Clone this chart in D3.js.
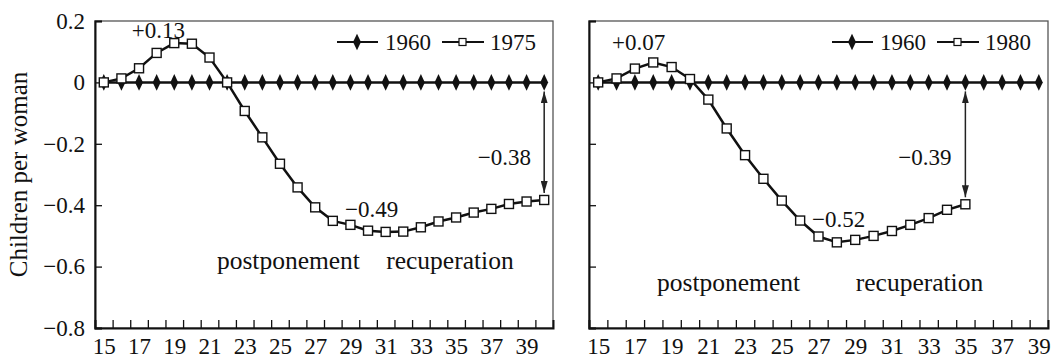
<!DOCTYPE html>
<html><head><meta charset="utf-8">
<script src="https://cdn.jsdelivr.net/npm/d3@7"></script>
<style>
svg text { font-family: "Liberation Serif" !important; }
</style>
</head>
<body style="margin:0;background:#fff">
<svg id="c" width="1059" height="359" font-family="Liberation Serif"></svg>
<script>
// ---- data ----
const agesLeft = d3.range(15, 41);   // 15..40
const agesRight = d3.range(15, 40);  // 15..39
const base1960Left = agesLeft.map(() => 0);
const base1960Right = agesRight.map(() => 0);
const ages1975 = d3.range(15, 41);
const vals1975 = [0, 0.013, 0.046, 0.096, 0.128, 0.126, 0.081, 0.0, -0.093, -0.179, -0.265, -0.342,
  -0.407, -0.451, -0.464, -0.483, -0.487, -0.486, -0.472, -0.453, -0.440, -0.424, -0.412, -0.396, -0.388, -0.383];
const ages1980 = d3.range(15, 36);
const vals1980 = [0, 0.013, 0.045, 0.065, 0.050, 0.011, -0.056, -0.150, -0.237, -0.314, -0.385, -0.450,
  -0.502, -0.521, -0.513, -0.500, -0.484, -0.464, -0.442, -0.415, -0.397];
const yTicks = [0.2, 0, -0.2, -0.4, -0.6, -0.8];
const yTitle = "Children per woman";

const panels = [
  {left:95, right:553, ages:agesLeft, base:base1960Left, sAges:ages1975, sVals:vals1975,
   legend:["1960","1975"], yLabels:true,
   peak:{t:"+0.13", a:18.1, v:0.146}, diff:{t:"\u22120.38", a:37.74, v:-0.268},
   min:{t:"\u22120.49", a:30.2, v:-0.437}, arrowAge:40, arrowVal:-0.383,
   post:{a:25.48, v:-0.608}, recup:{a:34.65, v:-0.608}},
  {left:589, right:1048, ages:agesRight, base:base1960Right, sAges:ages1980, sVals:vals1980,
   legend:["1960","1980"], yLabels:false,
   peak:{t:"+0.07", a:17.2, v:0.107}, diff:{t:"\u22120.39", a:32.8, v:-0.268},
   min:{t:"\u22120.52", a:28.1, v:-0.471}, arrowAge:35, arrowVal:-0.397,
   post:{a:22.1, v:-0.68}, recup:{a:32.5, v:-0.68}}
];

const svg = d3.select("#c");
const yTop = 21, yBottom = 328;
const y = d3.scaleLinear().domain([-0.8, 0.2]).range([yBottom, yTop]);
const fmt = v => v === 0 ? "0" : d3.format(".1f")(v);

const defs = svg.append("defs");
defs.append("marker").attr("id","ah").attr("viewBox","0 0 10 10").attr("refX",10).attr("refY",5)
  .attr("markerWidth",12).attr("markerHeight",7).attr("orient","auto-start-reverse")
  .attr("markerUnits","userSpaceOnUse").attr("preserveAspectRatio","none")
  .append("path").attr("d","M0,0 L10,5 L0,10 Z").attr("fill","#222");

const diamond = d3.symbol().type(d3.symbolDiamond).size(60);

panels.forEach(p => {
  const g = svg.append("g");
  const amin = d3.min(p.ages), amax = d3.max(p.ages);
  const x = d3.scaleLinear().domain([amin - 0.5, amax + 0.5]).range([p.left, p.right]);

  // frame
  g.append("rect").attr("x", p.left).attr("y", yTop).attr("width", p.right - p.left).attr("height", yBottom - yTop)
    .attr("fill","none").attr("stroke","#555").attr("stroke-width",1.3);

  // y axis
  const ya = g.append("g").attr("transform",`translate(${p.left},0)`)
    .call(d3.axisLeft(y).tickValues(yTicks).tickSize(-7).tickPadding(10)
      .tickFormat(p.yLabels ? fmt : ""));
  ya.attr("font-family","Liberation Serif").attr("font-size",23);
  ya.select(".domain").attr("stroke","#111").attr("stroke-width",2);
  ya.selectAll(".tick line").attr("stroke","#111").attr("stroke-width",1.3);
  ya.selectAll("text").attr("fill","#111");

  // x axis: ticks at category boundaries
  const bounds = d3.range(amin + 0.5, amax, 1);
  const xa = g.append("g").attr("transform",`translate(0,${yBottom})`)
    .call(d3.axisBottom(x).tickValues(bounds).tickSize(-8).tickFormat(""));
  xa.select(".domain").attr("stroke","#111").attr("stroke-width",2);
  xa.selectAll(".tick line").attr("stroke","#111").attr("stroke-width",1.3);
  const xl = g.append("g").attr("transform",`translate(0,${yBottom})`)
    .call(d3.axisBottom(x).tickValues(p.ages.filter(a => a % 2 === 1)).tickSize(0).tickPadding(10).tickFormat(d3.format("d")));
  xl.attr("font-family","Liberation Serif").attr("font-size",23);
  xl.select(".domain").remove();
  xl.selectAll("text").attr("fill","#111");

  // 1960 baseline
  const line = d3.line().x(d => x(d[0])).y(d => y(d[1]));
  const bData = p.ages.map((a,i) => [a, p.base[i]]);
  g.append("path").attr("d", line(bData)).attr("fill","none").attr("stroke","#111").attr("stroke-width",2.5);
  g.selectAll(".dm").data(bData).join("path").attr("class","dm")
    .attr("transform", d => `translate(${x(d[0])},${y(d[1])}) scale(0.95,1.15)`)
    .attr("d", diamond).attr("fill","#111");

  // arrow
  g.append("line").attr("x1", x(p.arrowAge)).attr("x2", x(p.arrowAge))
    .attr("y1", y(0) + 9).attr("y2", y(p.arrowVal) - 7)
    .attr("stroke","#222").attr("stroke-width",1.5)
    .attr("marker-start","url(#ah)").attr("marker-end","url(#ah)");

  // series
  const sData = p.sAges.map((a,i) => [a, p.sVals[i]]);
  g.append("path").attr("d", line(sData)).attr("fill","none").attr("stroke","#111").attr("stroke-width",2.5);
  g.selectAll(".sq").data(sData).join("rect").attr("class","sq")
    .attr("x", d => x(d[0]) - 4.5).attr("y", d => y(d[1]) - 4.5).attr("width",9).attr("height",9)
    .attr("fill","#fff").attr("stroke","#111").attr("stroke-width",1.4);

  // annotations
  const txt = (o, t, size) => g.append("text").attr("x", x(o.a)).attr("y", y(o.v))
    .attr("text-anchor","middle").attr("font-size", size).attr("fill","#111").text(t);
  txt(p.peak, p.peak.t, 23);
  txt(p.diff, p.diff.t, 23);
  txt(p.min, p.min.t, 23);
  txt(p.post, "postponement", 25.5);
  txt(p.recup, "recuperation", 25.5);

  // legend
  const R = p.right, ly = 42;
  g.append("line").attr("x1", R-216).attr("x2", R-175).attr("y1", ly).attr("y2", ly).attr("stroke","#111").attr("stroke-width",2);
  g.append("path").attr("transform",`translate(${R-196},${ly}) scale(0.95,1.15)`).attr("d", diamond).attr("fill","#111");
  g.append("text").attr("x", R-168).attr("y", ly+8).attr("font-size",23).attr("fill","#111").text(p.legend[0]);
  g.append("line").attr("x1", R-111).attr("x2", R-69).attr("y1", ly).attr("y2", ly).attr("stroke","#111").attr("stroke-width",2);
  g.append("rect").attr("x", R-94).attr("y", ly-3.5).attr("width",7).attr("height",7).attr("fill","#fff").attr("stroke","#111").attr("stroke-width",1.2);
  g.append("text").attr("x", R-63).attr("y", ly+8).attr("font-size",23).attr("fill","#111").text(p.legend[1]);
});

// y title
svg.append("text").attr("transform",`translate(27,${(yTop+yBottom)/2}) rotate(-90)`)
  .attr("text-anchor","middle").attr("font-size",25).attr("fill","#111").text(yTitle);
</script>
</body></html>
